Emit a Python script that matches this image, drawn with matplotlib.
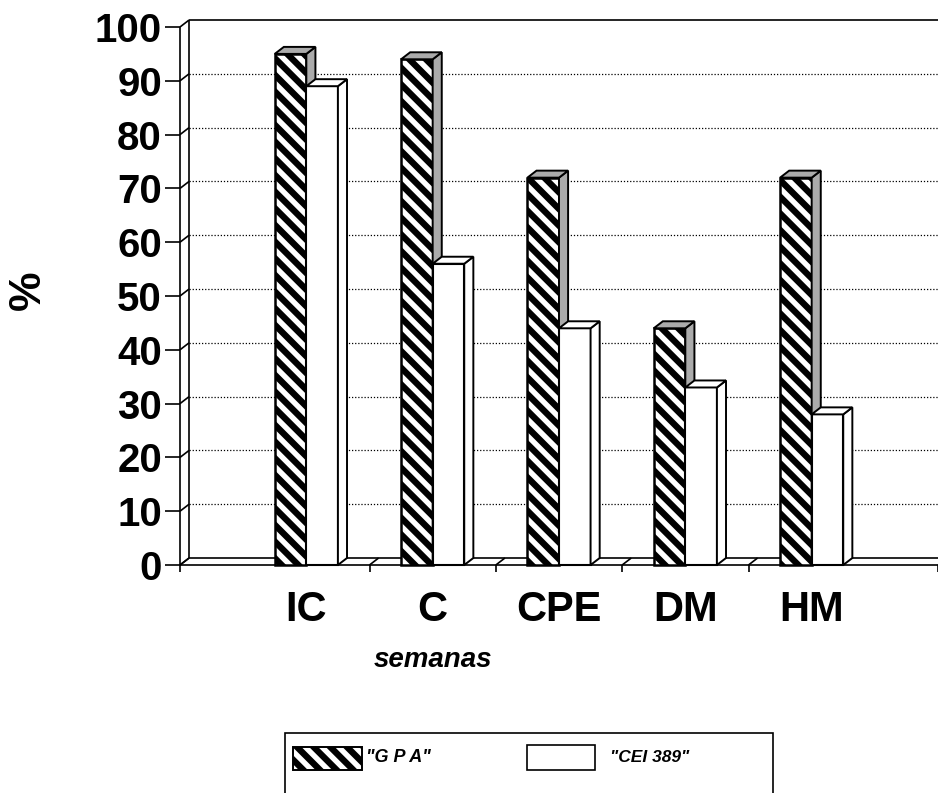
import matplotlib
matplotlib.use('Agg')
import matplotlib.pyplot as plt
from matplotlib.patches import Polygon, Rectangle

# Data
categories = ['IC', 'C', 'CPE', 'DM', 'HM']
gpa = [95, 94, 72, 44, 72]
cei = [89, 56, 44, 33, 28]
series_names = ['"G P A"', '"CEI 389"']
y_ticks = list(range(0, 101, 10))
floor_ticks = [0, 1.5, 2.5, 3.5, 4.5, 6]

plt.rcParams['font.family'] = ['Liberation Sans', 'DejaVu Sans']
plt.rcParams['hatch.linewidth'] = 4.6

W, H = 938, 793
fig = plt.figure(figsize=(W / 100, H / 100), dpi=100)
ax = fig.add_axes([180 / W, (H - 565) / H, 758 / W, 538 / H])
ax.set_xlim(0, 6)
ax.set_ylim(0, 100)
for s in ax.spines.values():
    s.set_visible(False)

dx, dy = 0.072, 1.3   # depth of the 3D box, data units
line = dict(color='black', lw=1.2, clip_on=False, solid_capstyle='butt')

# --- walls and floor ---
ax.plot([0, 0], [0, 100], **line)
ax.plot([dx, dx], [dy, 100 + dy], **line)
ax.plot([dx, 6.1], [100 + dy, 100 + dy], **line)
for v in y_ticks:
    ax.plot([0, dx], [v, v + dy], **line)
for v in y_ticks[1:-1]:
    ax.plot([dx, 6.1], [v + dy, v + dy], color='black', lw=0.9, ls=(0, (1, 1.5)),
            clip_on=False, zorder=1)
ax.plot([0, 6.1], [0, 0], **line)
ax.plot([dx, 6.1], [dy, dy], **line)
for t in floor_ticks:
    ax.plot([t, t + dx], [0, dy], **line)

# --- bars ---
x = [i + 1 for i in range(len(categories))]
bw = 0.25


def faces(left, vals, side_color, z):
    for x0, v in zip(left, vals):
        x1 = x0 + bw
        side = [(x1, 0), (x1 + dx, dy), (x1 + dx, v + dy), (x1, v)]
        top = [(x0, v), (x0 + dx, v + dy), (x1 + dx, v + dy), (x1, v)]
        for pts in (side, top):
            ax.add_patch(Polygon(pts, closed=True, facecolor=side_color,
                                 edgecolor='black', lw=1.4, zorder=z, clip_on=False))


gpa_left = [c - bw for c in x]
cei_left = [c for c in x]
ax.bar(gpa_left, gpa, width=bw, align='edge', facecolor='white', edgecolor='black',
       hatch='\\\\', lw=1.8, zorder=3, clip_on=False)
faces(gpa_left, gpa, '#ababab', 3)
ax.bar(cei_left, cei, width=bw, align='edge', facecolor='white', edgecolor='black',
       lw=1.5, zorder=4, clip_on=False)
faces(cei_left, cei, 'white', 4)

# --- ticks and labels ---
ax.set_yticks(y_ticks)
ax.set_yticklabels([str(v) for v in y_ticks], fontsize=29, fontweight='bold')
ax.tick_params(axis='y', length=11, width=1.2, pad=2)
ax.set_xticks(x)
ax.set_xticklabels(categories, fontsize=30, fontweight='bold')
ax.tick_params(axis='x', which='major', length=0, pad=18)
ax.set_xticks(floor_ticks, minor=True)
ax.tick_params(axis='x', which='minor', length=5, width=1.2)

ax.text(2, -17.7, 'semanas', ha='center', va='center', fontsize=20,
        style='italic', fontweight='bold', clip_on=False)
ax.text(-1.2, 51, '%', ha='center', va='center', fontsize=32, rotation=90,
        fontweight='bold', clip_on=False)


# --- legend box, drawn in pixel units ---
def px_rect(x0, y0, x1, y1, **kw):
    return Rectangle((x0 / W, 1 - y1 / H), (x1 - x0) / W, (y1 - y0) / H,
                     transform=fig.transFigure, **kw)


fig.add_artist(px_rect(285, 733, 773, 800, facecolor='none', edgecolor='black', lw=1.2))
fig.add_artist(px_rect(293, 747, 362, 770, facecolor='white', edgecolor='black',
                       hatch='\\\\', lw=1.4))
fig.add_artist(px_rect(527, 745, 595, 770, facecolor='white', edgecolor='black', lw=1.2))
fig.text(366 / W, 1 - 758 / H, series_names[0], ha='left', va='center', fontsize=13,
         style='italic', fontweight='bold')
fig.text(610 / W, 1 - 758 / H, series_names[1], ha='left', va='center', fontsize=12.5,
         style='italic', fontweight='bold')

fig.savefig('out.png', dpi=100)
